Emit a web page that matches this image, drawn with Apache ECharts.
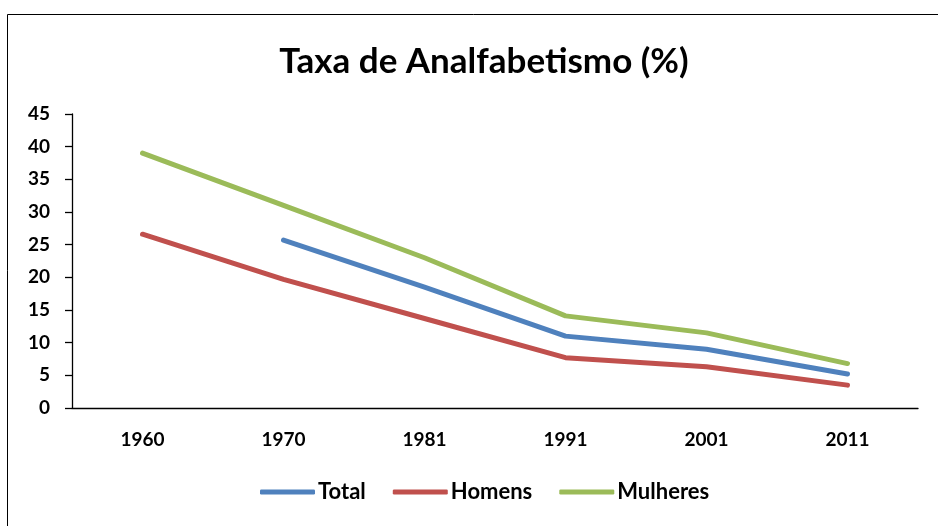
<!DOCTYPE html>
<html>
<head>
<meta charset="utf-8">
<script src="https://cdn.jsdelivr.net/npm/echarts@6/dist/echarts.min.js"></script>
<style>
  html, body { margin: 0; padding: 0; background: #fff; }
  #chart { width: 938px; height: 526px; }
</style>
</head>
<body>
<div id="chart"></div>
<script>
// dados
let anos = ["1960", "1970", "1981", "1991", "2001", "2011"];
let total = [null, 25.7, 18.5, 11.0, 9.0, 5.2];
let homens = [26.6, 19.7, 13.7, 7.7, 6.3, 3.5];
let mulheres = [39.0, 31.0, 23.0, 14.1, 11.5, 6.8];

let fonte = "Lato, 'Open Sans', sans-serif";
let chart = echarts.init(document.getElementById("chart"));

function serie(nome, dados, cor) {
  return {
    name: nome,
    type: "line",
    data: dados,
    symbol: "none",
    smooth: false,
    lineStyle: { color: cor, width: 5, cap: "round", join: "round" },
    itemStyle: { color: cor }
  };
}

let option = {
  animation: false,
  textStyle: { fontFamily: fonte },
  graphic: [{
    type: "rect",
    shape: { x: 7.5, y: 14.5, width: 940, height: 520 },
    style: { fill: "none", stroke: "#000", lineWidth: 1 }
  }],
  title: {
    text: "Taxa de Analfabetismo (%)",
    left: 479,
    textAlign: "center",
    top: 39,
    textStyle: { fontSize: 35, fontWeight: "bold", color: "#000", fontFamily: fonte }
  },
  legend: {
    bottom: 18,
    left: 255,
    icon: "roundRect",
    itemWidth: 55,
    itemHeight: 5,
    itemGap: 27,
    textStyle: { fontSize: 22, fontWeight: "bold", color: "#000", fontFamily: fonte, padding: [0, 0, 0, -2] },
    data: ["Total", "Homens", "Mulheres"]
  },
  grid: { left: 72, right: 20, top: 114, bottom: 118, containLabel: false },
  xAxis: {
    type: "category",
    data: anos,
    boundaryGap: true,
    axisLine: { lineStyle: { color: "#000", width: 1.3 } },
    axisTick: { show: false },
    axisLabel: { color: "#000", fontSize: 19, fontWeight: "bold", margin: 22, fontFamily: fonte }
  },
  yAxis: {
    type: "value",
    min: 0,
    max: 45,
    interval: 5,
    splitLine: { show: false },
    axisLine: { show: true, lineStyle: { color: "#000", width: 1.3 } },
    axisTick: { show: true, length: 7, lineStyle: { color: "#000", width: 1.3 } },
    axisLabel: { color: "#000", fontSize: 19, fontWeight: "bold", margin: 22, fontFamily: fonte }
  },
  series: [
    serie("Total", total, "#4F81BD"),
    serie("Homens", homens, "#C0504D"),
    serie("Mulheres", mulheres, "#9BBB59")
  ]
};

chart.setOption(option, true);
</script>
</body>
</html>
